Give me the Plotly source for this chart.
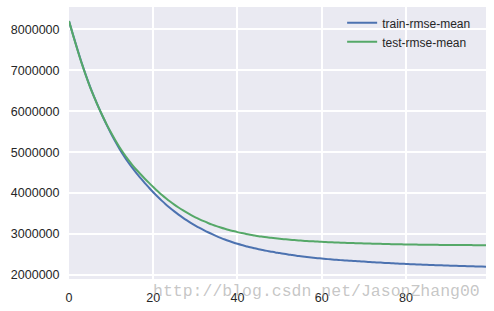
import plotly.graph_objects as go

rounds = list(range(100))

train_rmse_mean = [
    8.200, 7.852, 7.513, 7.185, 6.883, 6.599, 6.342, 6.098, 5.870, 5.654,
    5.451, 5.260, 5.080, 4.915, 4.760, 4.620, 4.488, 4.365, 4.244, 4.131,
    4.020, 3.915, 3.816, 3.723, 3.635, 3.553, 3.475, 3.402, 3.333, 3.268,
    3.207, 3.149, 3.095, 3.044, 2.996, 2.951, 2.908, 2.868, 2.830, 2.794,
    2.761, 2.731, 2.704, 2.677, 2.653, 2.630, 2.609, 2.589, 2.570, 2.552,
    2.536, 2.519, 2.502, 2.487, 2.472, 2.459, 2.446, 2.434, 2.422, 2.411,
    2.401, 2.392, 2.383, 2.374, 2.367, 2.359, 2.352, 2.346, 2.339, 2.333,
    2.328, 2.320, 2.314, 2.308, 2.302, 2.295, 2.290, 2.285, 2.280, 2.274,
    2.270, 2.265, 2.261, 2.256, 2.252, 2.248, 2.244, 2.240, 2.237, 2.234,
    2.230, 2.227, 2.223, 2.221, 2.218, 2.214, 2.211, 2.209, 2.206, 2.203,
]

test_rmse_mean = [
    8.200, 7.845, 7.503, 7.173, 6.872, 6.590, 6.336, 6.098, 5.876, 5.667,
    5.473, 5.291, 5.120, 4.966, 4.822, 4.692, 4.571, 4.459, 4.351, 4.249,
    4.149, 4.051, 3.960, 3.874, 3.793, 3.718, 3.648, 3.582, 3.521, 3.463,
    3.409, 3.360, 3.314, 3.271, 3.230, 3.192, 3.159, 3.128, 3.099, 3.072,
    3.047, 3.024, 3.003, 2.983, 2.965, 2.948, 2.934, 2.920, 2.908, 2.896,
    2.886, 2.875, 2.865, 2.856, 2.848, 2.840, 2.833, 2.827, 2.821, 2.815,
    2.811, 2.805, 2.800, 2.795, 2.791, 2.787, 2.783, 2.780, 2.777, 2.774,
    2.772, 2.768, 2.765, 2.762, 2.760, 2.757, 2.755, 2.752, 2.750, 2.748,
    2.746, 2.745, 2.743, 2.741, 2.740, 2.739, 2.738, 2.737, 2.735, 2.734,
    2.734, 2.733, 2.732, 2.731, 2.730, 2.730, 2.729, 2.728, 2.728, 2.727,
]

x_ticks = [0, 20, 40, 60, 80]
y_ticks = [2000000, 3000000, 4000000, 5000000, 6000000, 7000000, 8000000]
watermark = "http://blog.csdn.net/JasonZhang00"

train = [v * 1e6 for v in train_rmse_mean]
test = [v * 1e6 for v in test_rmse_mean]

fig = go.Figure()
fig.add_trace(go.Scatter(x=rounds, y=train, mode="lines", name="train-rmse-mean",
                         line=dict(color="#4C72B0", width=2, shape="spline", smoothing=1)))
fig.add_trace(go.Scatter(x=rounds, y=test, mode="lines", name="test-rmse-mean",
                         line=dict(color="#55A868", width=2, shape="spline", smoothing=1)))

tick_font = dict(family="Liberation Sans, Arial, sans-serif", size=12.5, color="#262626")

fig.update_layout(
    width=494, height=311,
    margin=dict(l=69, r=8, t=7, b=32),
    paper_bgcolor="white",
    plot_bgcolor="#EAEAF2",
    showlegend=True,
    legend=dict(x=0.655, y=0.995, xanchor="left", yanchor="top",
                bgcolor="rgba(0,0,0,0)", borderwidth=0,
                font=dict(family="Liberation Sans, Arial, sans-serif", size=12, color="#262626"),
                tracegroupgap=0, itemwidth=30),
    xaxis=dict(range=[0, 99], tickvals=x_ticks, ticktext=[str(t) for t in x_ticks],
               showgrid=True, gridcolor="white", gridwidth=1.5, zeroline=False,
               showline=False, ticks="outside", ticklen=7, tickcolor="rgba(0,0,0,0)",
               tickfont=tick_font),
    yaxis=dict(range=[1.902e6, 8.545e6], tickvals=y_ticks, ticktext=[str(t) for t in y_ticks],
               showgrid=True, gridcolor="white", gridwidth=1.5, zeroline=False,
               showline=False, ticks="outside", ticklen=6, tickcolor="rgba(0,0,0,0)",
               tickfont=tick_font),
)

fig.add_annotation(text=watermark, xref="paper", yref="paper",
                   x=(482 - 69) / 417, y=-(291 - 279) / 272, xanchor="right", yanchor="middle",
                   showarrow=False,
                   font=dict(family="Liberation Mono, Courier New, monospace", size=16.5,
                             color="rgba(150,150,150,0.55)"))

fig.write_html("out.html")
